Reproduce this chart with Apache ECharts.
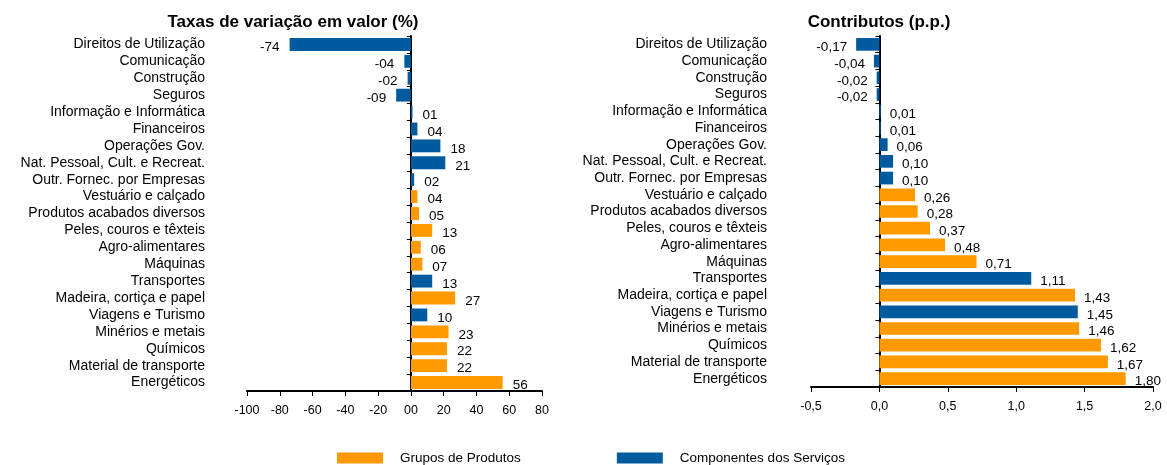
<!DOCTYPE html>
<html><head><meta charset="utf-8">
<script src="https://cdn.jsdelivr.net/npm/echarts@6/dist/echarts.min.js"></script>
<style>html,body{margin:0;padding:0;background:#fff}#c{width:1167px;height:465px}</style>
</head><body><div id="c"></div>
<script>
const categories = ['Direitos de Utilização','Comunicação','Construção','Seguros','Informação e Informática','Financeiros','Operações Gov.','Nat. Pessoal, Cult. e Recreat.','Outr. Fornec. por Empresas','Vestuário e calçado','Produtos acabados diversos','Peles, couros e têxteis','Agro-alimentares','Máquinas','Transportes','Madeira, cortiça e papel','Viagens e Turismo','Minérios e metais','Químicos','Material de transporte','Energéticos'];
const taxas = [-74,-4,-2,-9,1,4,18,21,2,4,5,13,6,7,13,27,10,23,22,22,56];
const contributos = [-0.17,-0.04,-0.02,-0.02,0.01,0.01,0.06,0.10,0.10,0.26,0.28,0.37,0.48,0.71,1.11,1.43,1.45,1.46,1.62,1.67,1.80];
const grupo = ['S','S','S','S','S','S','S','S','S','P','P','P','P','P','S','P','S','P','P','P','P'];
const seriesNames = {P:'Grupos de Produtos', S:'Componentes dos Serviços'};
const colors = {P:'#FF9900', S:'#005A9E'};
const taxasTicks = {min:-100, max:80, interval:20};
const contribTicks = {min:-0.5, max:2.0, interval:0.5};

const FONT = "'Liberation Sans', Arial, sans-serif";
const NARROW = "'Liberation Sans Narrow', 'Liberation Sans', Arial, sans-serif";

function fmtTaxa(v){ return (v<0?'-':'') + String(Math.abs(v)).padStart(2,'0'); }
function fmtContrib(v){ return v.toFixed(2).replace('.',','); }

function makeSeries(values, gi, key, fmt, dist){
  return {
    type:'bar', name:seriesNames[key], xAxisIndex:gi, yAxisIndex:gi,
    barGap:'-100%', barCategoryGap:'24%',
    itemStyle:{color:colors[key]},
    data: values.map((v,i)=> grupo[i]===key ? {value:v, label:{position: v<0?'left':'right'}} : '-'),
    label:{show:true, color:'#000', fontFamily:FONT, fontSize:13.5, distance:dist, offset:[0,3],
      formatter:p=>fmt(p.value)},
    silent:true, animation:false
  };
}

const chart = echarts.init(document.getElementById('c'), null, {renderer:'canvas'});
const yCat = (margin)=>({
  type:'category', data:categories, inverse:true,
  axisLine:{onZero:true, lineStyle:{color:'#000', width:2}},
  axisTick:{show:true, length:4, lineStyle:{color:'#000'}},
  axisLabel:{margin:margin, color:'#000', fontFamily:FONT, fontSize:14, interval:0}
});
chart.setOption({
  animation:false,
  title:[
    {text:'Taxas de variação em valor (%)', left:288, top:9, textAlign:'center',
      textStyle:{fontFamily:FONT, fontWeight:'bold', fontSize:17, color:'#000'}},
    {text:'Contributos (p.p.)', left:874, top:9, textAlign:'center',
      textStyle:{fontFamily:FONT, fontWeight:'bold', fontSize:17, color:'#000'}}
  ],
  legend:{
    data:[seriesNames.P, seriesNames.S], left:332, top:446, itemWidth:46, itemHeight:11,
    itemGap:96, icon:'rect', selectedMode:false,
    textStyle:{fontFamily:FONT, fontSize:13.5, color:'#000', padding:[0,0,0,12]}
  },
  grid:[
    {left:247, top:36, width:295, height:355, outerBoundsMode:'none', containLabel:false},
    {left:811, top:36, width:342, height:351, outerBoundsMode:'none', containLabel:false}
  ],
  xAxis:[
    {gridIndex:0, type:'value', min:taxasTicks.min, max:taxasTicks.max, interval:taxasTicks.interval,
      splitLine:{show:false}, axisLine:{show:true, onZero:false, lineStyle:{color:'#000', width:2}},
      axisTick:{show:true, length:5, lineStyle:{color:'#000'}},
      axisLabel:{margin:13, color:'#000', fontFamily:NARROW, fontSize:12.5, formatter:v=> v===0?'00':String(v)}},
    {gridIndex:1, type:'value', min:contribTicks.min, max:contribTicks.max, interval:contribTicks.interval,
      splitLine:{show:false}, axisLine:{show:true, onZero:false, lineStyle:{color:'#000', width:2}},
      axisTick:{show:true, length:5, lineStyle:{color:'#000'}},
      axisLabel:{margin:13, color:'#000', fontFamily:NARROW, fontSize:12.5, formatter:v=> v.toFixed(1).replace('.',',')}}
  ],
  yAxis:[ Object.assign({gridIndex:0}, yCat(42)), Object.assign({gridIndex:1}, yCat(44)) ],
  series:[
    makeSeries(taxas,0,'P',fmtTaxa,10), makeSeries(taxas,0,'S',fmtTaxa,10),
    makeSeries(contributos,1,'P',fmtContrib,9), makeSeries(contributos,1,'S',fmtContrib,9)
  ]
});
</script></body></html>
